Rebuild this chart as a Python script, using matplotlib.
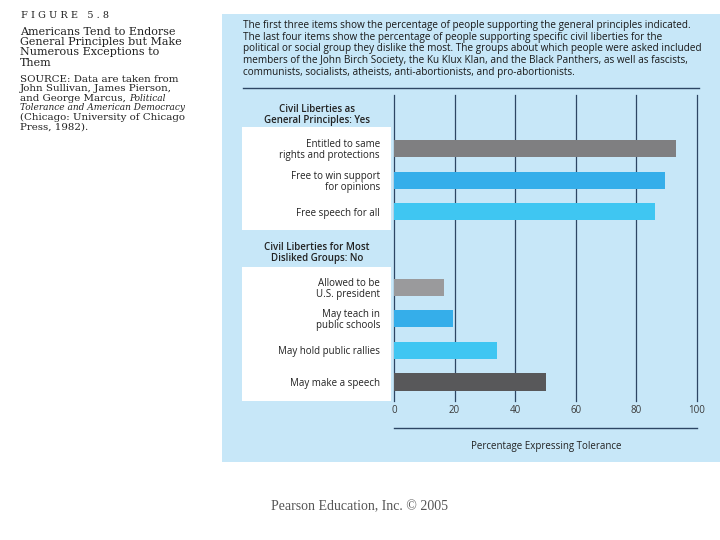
import matplotlib
matplotlib.use('Agg')
import matplotlib.pyplot as plt
from matplotlib.patches import Rectangle
from matplotlib.lines import Line2D

# Data
labels_yes = ['Entitled to same\nrights and protections', 'Free to win support\nfor opinions', 'Free speech for all']
values_yes = [93, 89.5, 86]
labels_no = ['Allowed to be\nU.S. president', 'May teach in\npublic schools', 'May hold public rallies', 'May make a speech']
values_no = [16.5, 19.5, 34, 50]
colors_yes = ['#7f7f81', '#35aeea', '#3fc6f2']
colors_no = ['#9a9a9c', '#35aeea', '#3fc6f2', '#58585a']
xticks = [0, 20, 40, 60, 80, 100]

W, H = 720, 540
fig = plt.figure(figsize=(7.2, 5.4), dpi=100)
fig.patch.set_facecolor('white')

def fx(px):
    return px / W

def fy(py):
    return 1 - py / H

panel_bg = '#c7e7f8'
dark = '#2d4664'

# light blue panel
fig.patches.append(Rectangle((fx(222), fy(462)), fx(720) - fx(222), fy(14) - fy(462),
                             transform=fig.transFigure, facecolor=panel_bg, edgecolor='none', zorder=0))
# white label boxes
fig.patches.append(Rectangle((fx(242), fy(230)), fx(391) - fx(242), fy(127) - fy(230),
                             transform=fig.transFigure, facecolor='white', edgecolor='none', zorder=1))
fig.patches.append(Rectangle((fx(242), fy(401)), fx(391) - fx(242), fy(267) - fy(401),
                             transform=fig.transFigure, facecolor='white', edgecolor='none', zorder=1))

# separator lines
fig.lines.append(Line2D([fx(243), fx(699)], [fy(88), fy(88)], transform=fig.transFigure, color=dark, lw=1.0))
fig.lines.append(Line2D([fx(394), fx(697)], [fy(428), fy(428)], transform=fig.transFigure, color=dark, lw=1.0))

# bar axes
ax = fig.add_axes([fx(394), fy(401), fx(697) - fx(394), fy(95) - fy(401)])
ax.set_facecolor('none')
ax.set_zorder(2)

slot = 1.0
pos_yes = [1.7 + i * slot for i in range(len(values_yes))]
pos_no = [6.08 + i * slot for i in range(len(values_no))]
ax.barh(pos_yes, values_yes, height=0.54, color=colors_yes, zorder=3)
ax.barh(pos_no, values_no, height=0.54, color=colors_no, zorder=3)

ax.set_xlim(0, 100)
ax.set_ylim(9.68, 0)
ax.set_xticks(xticks)
ax.set_xticklabels([str(t) for t in xticks], fontsize=7, color='#3a3a3a', family='Open Sans')
ax.set_yticks(pos_yes + pos_no)
ax.set_yticklabels(labels_yes + labels_no, fontsize=7, color='#222222', family='Open Sans',
                   linespacing=1.0, ha='right')
ax.tick_params(axis='y', length=0, pad=10)
ax.tick_params(axis='x', length=0, pad=3)
for t in xticks:
    ax.axvline(t, color=dark, lw=0.9, zorder=1, clip_on=False)
for s in ax.spines.values():
    s.set_visible(False)

# group headers
fig.text(fx(317), fy(115), 'Civil Liberties as\nGeneral Principles: Yes', ha='center', va='center',
         fontsize=7, fontweight='semibold', color='#222222', family='Open Sans', linespacing=1.0)
fig.text(fx(317), fy(253.5), 'Civil Liberties for Most\nDisliked Groups: No', ha='center', va='center',
         fontsize=7, fontweight='semibold', color='#222222', family='Open Sans', linespacing=1.0)

# x label
fig.text(fx(546), fy(447), 'Percentage Expressing Tolerance', ha='center', va='center',
         fontsize=7, color='#222222', family='Open Sans')

# panel description
desc = ('The first three items show the percentage of people supporting the general principles indicated.\n'
        'The last four items show the percentage of people supporting specific civil liberties for the\n'
        'political or social group they dislike the most. The groups about which people were asked included\n'
        'members of the John Birch Society, the Ku Klux Klan, and the Black Panthers, as well as fascists,\n'
        'communists, socialists, atheists, anti-abortionists, and pro-abortionists.')
fig.text(fx(243), fy(20), desc, ha='left', va='top', fontsize=7.2, color='#1a1a1a',
         family='Open Sans', linespacing=1.08)

# left caption
serif = 'DejaVu Serif'
fig.text(fx(21), fy(16), 'F I G U R E   5 . 8', ha='left', va='center', fontsize=7,
         family=serif, color='#222222')
title_lines = ['Americans Tend to Endorse', 'General Principles but Make', 'Numerous Exceptions to', 'Them']
for i, line in enumerate(title_lines):
    fig.text(fx(20), fy(32 + i * 10.2), line, ha='left', va='center', fontsize=8.0,
             family=serif, color='#222222')

src_lines = [
    [('SOURCE: Data are taken from', 'normal')],
    [('John Sullivan, James Pierson,', 'normal')],
    [('and George Marcus, ', 'normal'), ('Political', 'italic')],
    [('Tolerance and American Democracy', 'italic')],
    [('(Chicago: University of Chicago', 'normal')],
    [('Press, 1982).', 'normal')],
]
renderer = fig.canvas.get_renderer()
y0 = 79
for i, parts in enumerate(src_lines):
    x = 20
    for txt, style in parts:
        size = 6.5 if style == 'italic' else 7.4
        t = fig.text(fx(x), fy(y0 + i * 9.6), txt, ha='left', va='center', fontsize=size,
                     family=serif, style=style, color='#222222')
        x += t.get_window_extent(renderer).width

# footer
fig.text(fx(271), fy(507), 'Pearson Education, Inc. \u00a9 2005', ha='left', va='center',
         fontsize=10, family='Liberation Serif', color='#555555')

fig.savefig('out.png', dpi=100)
